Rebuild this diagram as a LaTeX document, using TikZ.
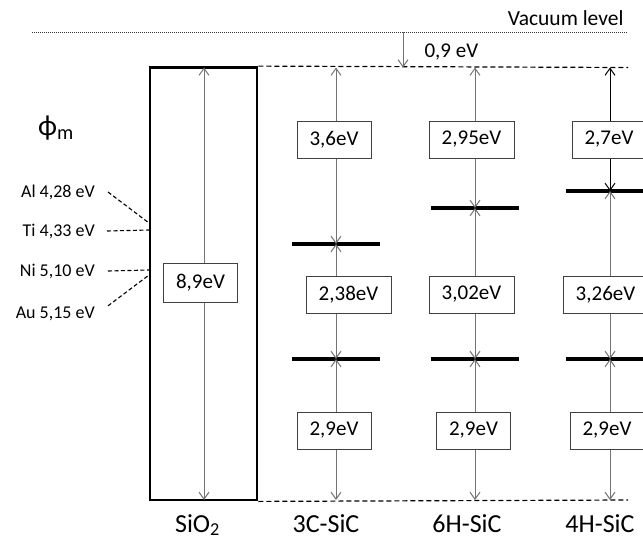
\documentclass[tikz,border=0pt]{standalone}
\usepackage{fontspec}
\setmainfont{Carlito}
\usetikzlibrary{arrows.meta}
\begin{document}
\begin{tikzpicture}[x=1pt,y=-1pt,
 gapbox/.style={draw=black!75,rectangle,line width=0.9pt,minimum width=74pt,minimum height=37pt,inner sep=0pt,fill=white,font=\fontsize{21}{24}\selectfont},
 widebox/.style={gapbox,minimum width=85pt},
 oxide/.style={draw=black,rectangle,line width=2.8pt,minimum width=107pt,minimum height=432.5pt,inner sep=0pt},
 band/.style={fill=black,rectangle,minimum width=88pt,minimum height=3.8pt,inner sep=0pt},
 gap/.style={{Straight Barb[length=7pt,width=10pt]}-{Straight Barb[length=7pt,width=10pt]},black!55,line width=1pt},
 drop/.style={-{Straight Barb[length=7pt,width=10pt]},black!55,line width=1pt},
 metal/.style={dash pattern=on 4pt off 2.5pt,black,line width=1.1pt},
 edge/.style={dash pattern=on 5pt off 3pt,black,line width=1.2pt},
 every node/.style={font=\fontsize{18}{21}\selectfont},
 metallabel/.style={anchor=east,inner sep=1pt},
 crystal/.style={anchor=base,font=\fontsize{26}{30}\selectfont}]
\clip (0,0) rectangle (643,539);
% levels
\coordinate (vacl) at (32,32);
\coordinate (vacr) at (628,32);
\coordinate (cbr) at (628,67.5);
\coordinate (vbr) at (628,500);
\coordinate (vacd) at (403,32);
\coordinate (cbd) at (403,67.5);
\node[oxide] (sio) at (203.5,283.75) {};
\coordinate (sitop) at (204,67.5);
\coordinate (sibot) at (204,500);
\coordinate (top3c) at (336,67.5);
\coordinate (bot3c) at (336,500);
\coordinate (top6h) at (475,67.5);
\coordinate (bot6h) at (475,500);
\coordinate (top4h) at (610,67.5);
\coordinate (bot4h) at (610,500);
\node[band] (c3c) at (336,244) {};
\node[band] (v3c) at (336,359) {};
\node[band] (c6h) at (475,208) {};
\node[band] (v6h) at (475,359) {};
\node[band] (c4h) at (610,191) {};
\node[band] (v4h) at (610,359) {};
\draw[dash pattern=on 1pt off 1pt,line width=1pt,black!80] (vacl) -- (vacr);
\draw[edge] (sio.north east) -- (cbr);
\draw[edge] (sio.south east) -- (vbr);
\draw[drop] (vacd) -- (cbd);
\draw[gap] (sitop) -- (sibot);
\draw[gap] (top3c) -- (c3c.center);
\draw[gap] (c3c.center) -- (v3c.center);
\draw[gap] (v3c.center) -- (bot3c);
\draw[gap] (top6h) -- (c6h.center);
\draw[gap] (c6h.center) -- (v6h.center);
\draw[gap] (v6h.center) -- (bot6h);
\draw[gap,black] (top4h) -- (c4h.center);
\draw[gap] (c4h.center) -- (v4h.center);
\draw[gap] (v4h.center) -- (bot4h);
% gap values
\node[gapbox,minimum height=39pt] (gsio) at (200.5,282.5) {8,9eV};
\node[gapbox] (g3ctop) at (334,139.5) {3,6eV};
\node[widebox] (g3cmid) at (348.5,294.5) {2,38eV};
\node[gapbox] (g3cbot) at (334,430.5) {2,9eV};
\node[widebox] (g6htop) at (471.5,139.5) {2,95eV};
\node[widebox] (g6hmid) at (471.5,294.5) {3,02eV};
\node[gapbox] (g6hbot) at (473.5,430.5) {2,9eV};
\node[gapbox] (g4htop) at (609,139.5) {2,7eV};
\node[widebox] (g4hmid) at (605.5,294.5) {3,26eV};
\node[gapbox] (g4hbot) at (607,430.5) {2,9eV};
\node[anchor=base east,font=\fontsize{21.5}{25}\selectfont] (vac) at (627,25) {Vacuum level};
\node[anchor=base west,font=\fontsize{21}{24}\selectfont] (offset) at (421,57) {0,9 eV};
% metals
\node[font=\fontsize{29}{32}\selectfont] (phim) at (56,128) {ϕ\textsubscript{m}};
\node[metallabel] (al) at (96,192) {Al 4,28 eV};
\node[metallabel] (ti) at (96,231) {Ti 4,33 eV};
\node[metallabel] (ni) at (96,271) {Ni 5,10 eV};
\node[metallabel] (au) at (96,314) {Au 5,15 eV};
\coordinate (mal) at (149,223);
\coordinate (mti) at (149,230);
\coordinate (mni) at (149,270);
\coordinate (mau) at (149,275);
\draw[metal] ([xshift=12pt]al.east) -- (mal);
\draw[metal] ([xshift=11pt]ti.east) -- (mti);
\draw[metal] ([xshift=12pt]ni.east) -- (mni);
\draw[metal] ([xshift=12pt]au.north east) -- (mau);
% crystals
\node[crystal] (lsio) at (197.5,532) {SiO\textsubscript{2}};
\node[crystal] (l3c) at (326,532) {3C-SiC};
\node[crystal] (l6h) at (467,532) {6H-SiC};
\node[crystal] (l4h) at (600,532) {4H-SiC};
\end{tikzpicture}
\end{document}
